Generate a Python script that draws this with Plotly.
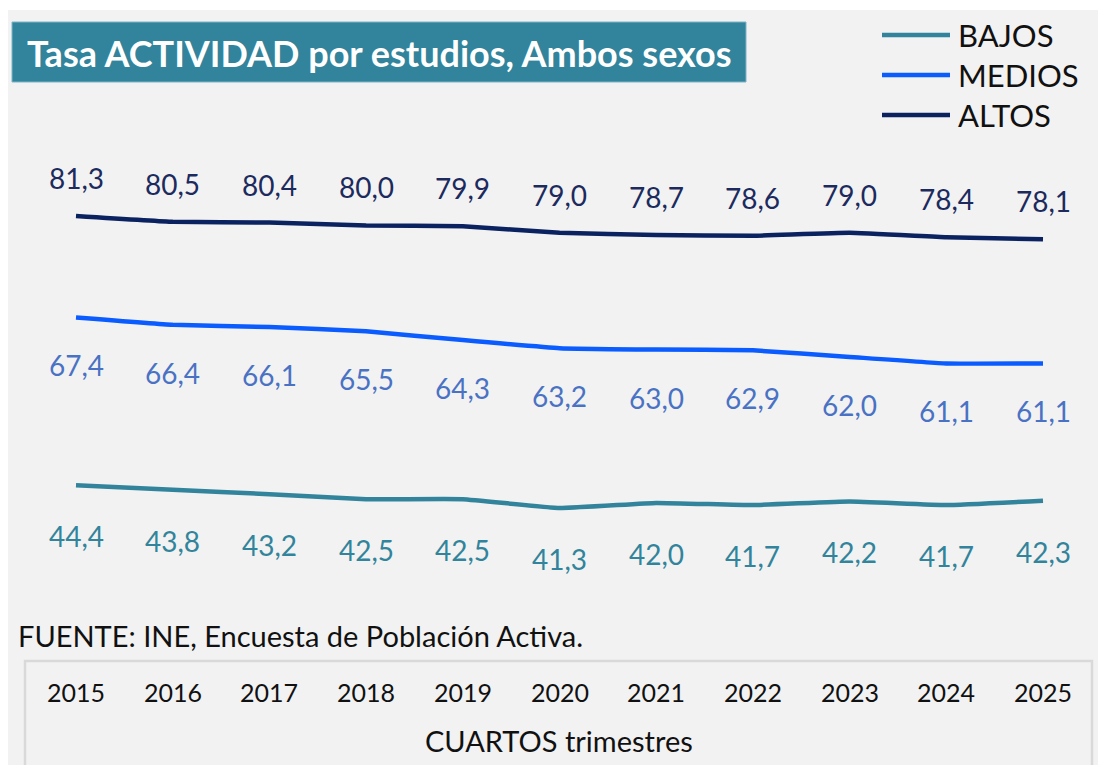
import plotly.graph_objects as go

years = [2015, 2016, 2017, 2018, 2019, 2020, 2021, 2022, 2023, 2024, 2025]
bajos = [44.4, 43.8, 43.2, 42.5, 42.5, 41.3, 42.0, 41.7, 42.2, 41.7, 42.3]
medios = [67.4, 66.4, 66.1, 65.5, 64.3, 63.2, 63.0, 62.9, 62.0, 61.1, 61.1]
altos = [81.3, 80.5, 80.4, 80.0, 79.9, 79.0, 78.7, 78.6, 79.0, 78.4, 78.1]
series_names = ["BAJOS", "MEDIOS", "ALTOS"]

title_text = "Tasa ACTIVIDAD por estudios, Ambos sexos"
source_text = "FUENTE: INE, Encuesta de Población Activa."
xaxis_title = "CUARTOS trimestres"

# page body has an 8px margin; figure is sized so it ends at the window edge
OFF = 8
W, H = 1106 - OFF, 765 - OFF
FONT = "Lato"

line_colors = {"BAJOS": "#31849B", "MEDIOS": "#0A5CFF", "ALTOS": "#0B2260"}
label_colors = {"BAJOS": "#31849B", "MEDIOS": "#4A72C4", "ALTOS": "#1C2A5E"}
label_shift = {"BAJOS": -51, "MEDIOS": -48, "ALTOS": 38}

def px(x):
    return (x - OFF) / W

def py(y):
    return 1 - (y - OFF) / H

fig = go.Figure()

data = {"BAJOS": bajos, "MEDIOS": medios, "ALTOS": altos}
for name in series_names:
    vals = data[name]
    fig.add_trace(go.Scatter(
        x=years, y=vals, mode="lines", name=name,
        line=dict(color=line_colors[name], width=4.5, shape="spline", smoothing=0.3),
        showlegend=False, hoverinfo="x+y+name",
    ))
    for yr, v in zip(years, vals):
        fig.add_annotation(
            x=yr, y=v, xref="x", yref="y",
            text=f"{v:.1f}".replace(".", ","),
            showarrow=False, yshift=label_shift[name],
            font=dict(family=FONT, size=28, color=label_colors[name]),
        )

shapes = []
# gray background panel (white strip at the top)
shapes.append(dict(type="rect", xref="paper", yref="paper",
                   x0=0, x1=1, y0=0, y1=py(10),
                   fillcolor="#F2F2F2", line=dict(width=0), layer="below"))
# title box
shapes.append(dict(type="rect", xref="paper", yref="paper",
                   x0=px(12), x1=px(746), y0=py(82), y1=py(22),
                   fillcolor="#31849B", line=dict(color="#7FB4C4", width=1), layer="below"))
# bottom axis box
shapes.append(dict(type="rect", xref="paper", yref="paper",
                   x0=px(25), x1=px(1092), y0=py(780), y1=py(661),
                   fillcolor="rgba(0,0,0,0)", line=dict(color="#D9D9D9", width=2.5), layer="below"))

annotations = []
annotations.append(dict(xref="paper", yref="paper", x=px(379), y=py(53),
                        text=f"<b>{title_text}</b>", showarrow=False,
                        xanchor="center", yanchor="middle",
                        font=dict(family=FONT, size=36, color="white")))

# manual legend
leg_y = {"BAJOS": 35, "MEDIOS": 75, "ALTOS": 115}
for name in series_names:
    shapes.append(dict(type="line", xref="paper", yref="paper",
                       x0=px(882), x1=px(950), y0=py(leg_y[name]), y1=py(leg_y[name]),
                       line=dict(color=line_colors[name], width=4.5)))
    annotations.append(dict(xref="paper", yref="paper", x=px(956), y=py(leg_y[name]),
                            text=name, showarrow=False, xanchor="left", yanchor="middle",
                            font=dict(family=FONT, size=31, color="#111111")))

annotations.append(dict(xref="paper", yref="paper", x=px(16), y=py(635),
                        text=source_text, showarrow=False, xanchor="left", yanchor="middle",
                        font=dict(family=FONT, size=29, color="#111111")))

for yr in years:
    annotations.append(dict(xref="x", yref="paper", x=yr, y=py(692),
                            text=str(yr), showarrow=False, xanchor="center", yanchor="middle",
                            font=dict(family=FONT, size=25, color="#111111")))

annotations.append(dict(xref="paper", yref="paper", x=px(559), y=py(740),
                        text=xaxis_title, showarrow=False, xanchor="center", yanchor="middle",
                        font=dict(family=FONT, size=29, color="#111111")))

for a in annotations:
    fig.add_annotation(**a)

px_per_year = 96.7
x0 = 2015 - (76 - OFF) / px_per_year
x1 = x0 + W / px_per_year
px_per_unit = 7.3
ytop = 81.3 + (216 - OFF) / px_per_unit
ybot = ytop - H / px_per_unit

fig.update_layout(
    width=W, height=H,
    margin=dict(l=0, r=0, t=0, b=0),
    paper_bgcolor="white", plot_bgcolor="rgba(0,0,0,0)",
    shapes=shapes,
    xaxis=dict(range=[x0, x1], visible=False, fixedrange=True),
    yaxis=dict(range=[ybot, ytop], visible=False, fixedrange=True),
    showlegend=False,
    font=dict(family=FONT),
)

fig.write_html("out.html")
